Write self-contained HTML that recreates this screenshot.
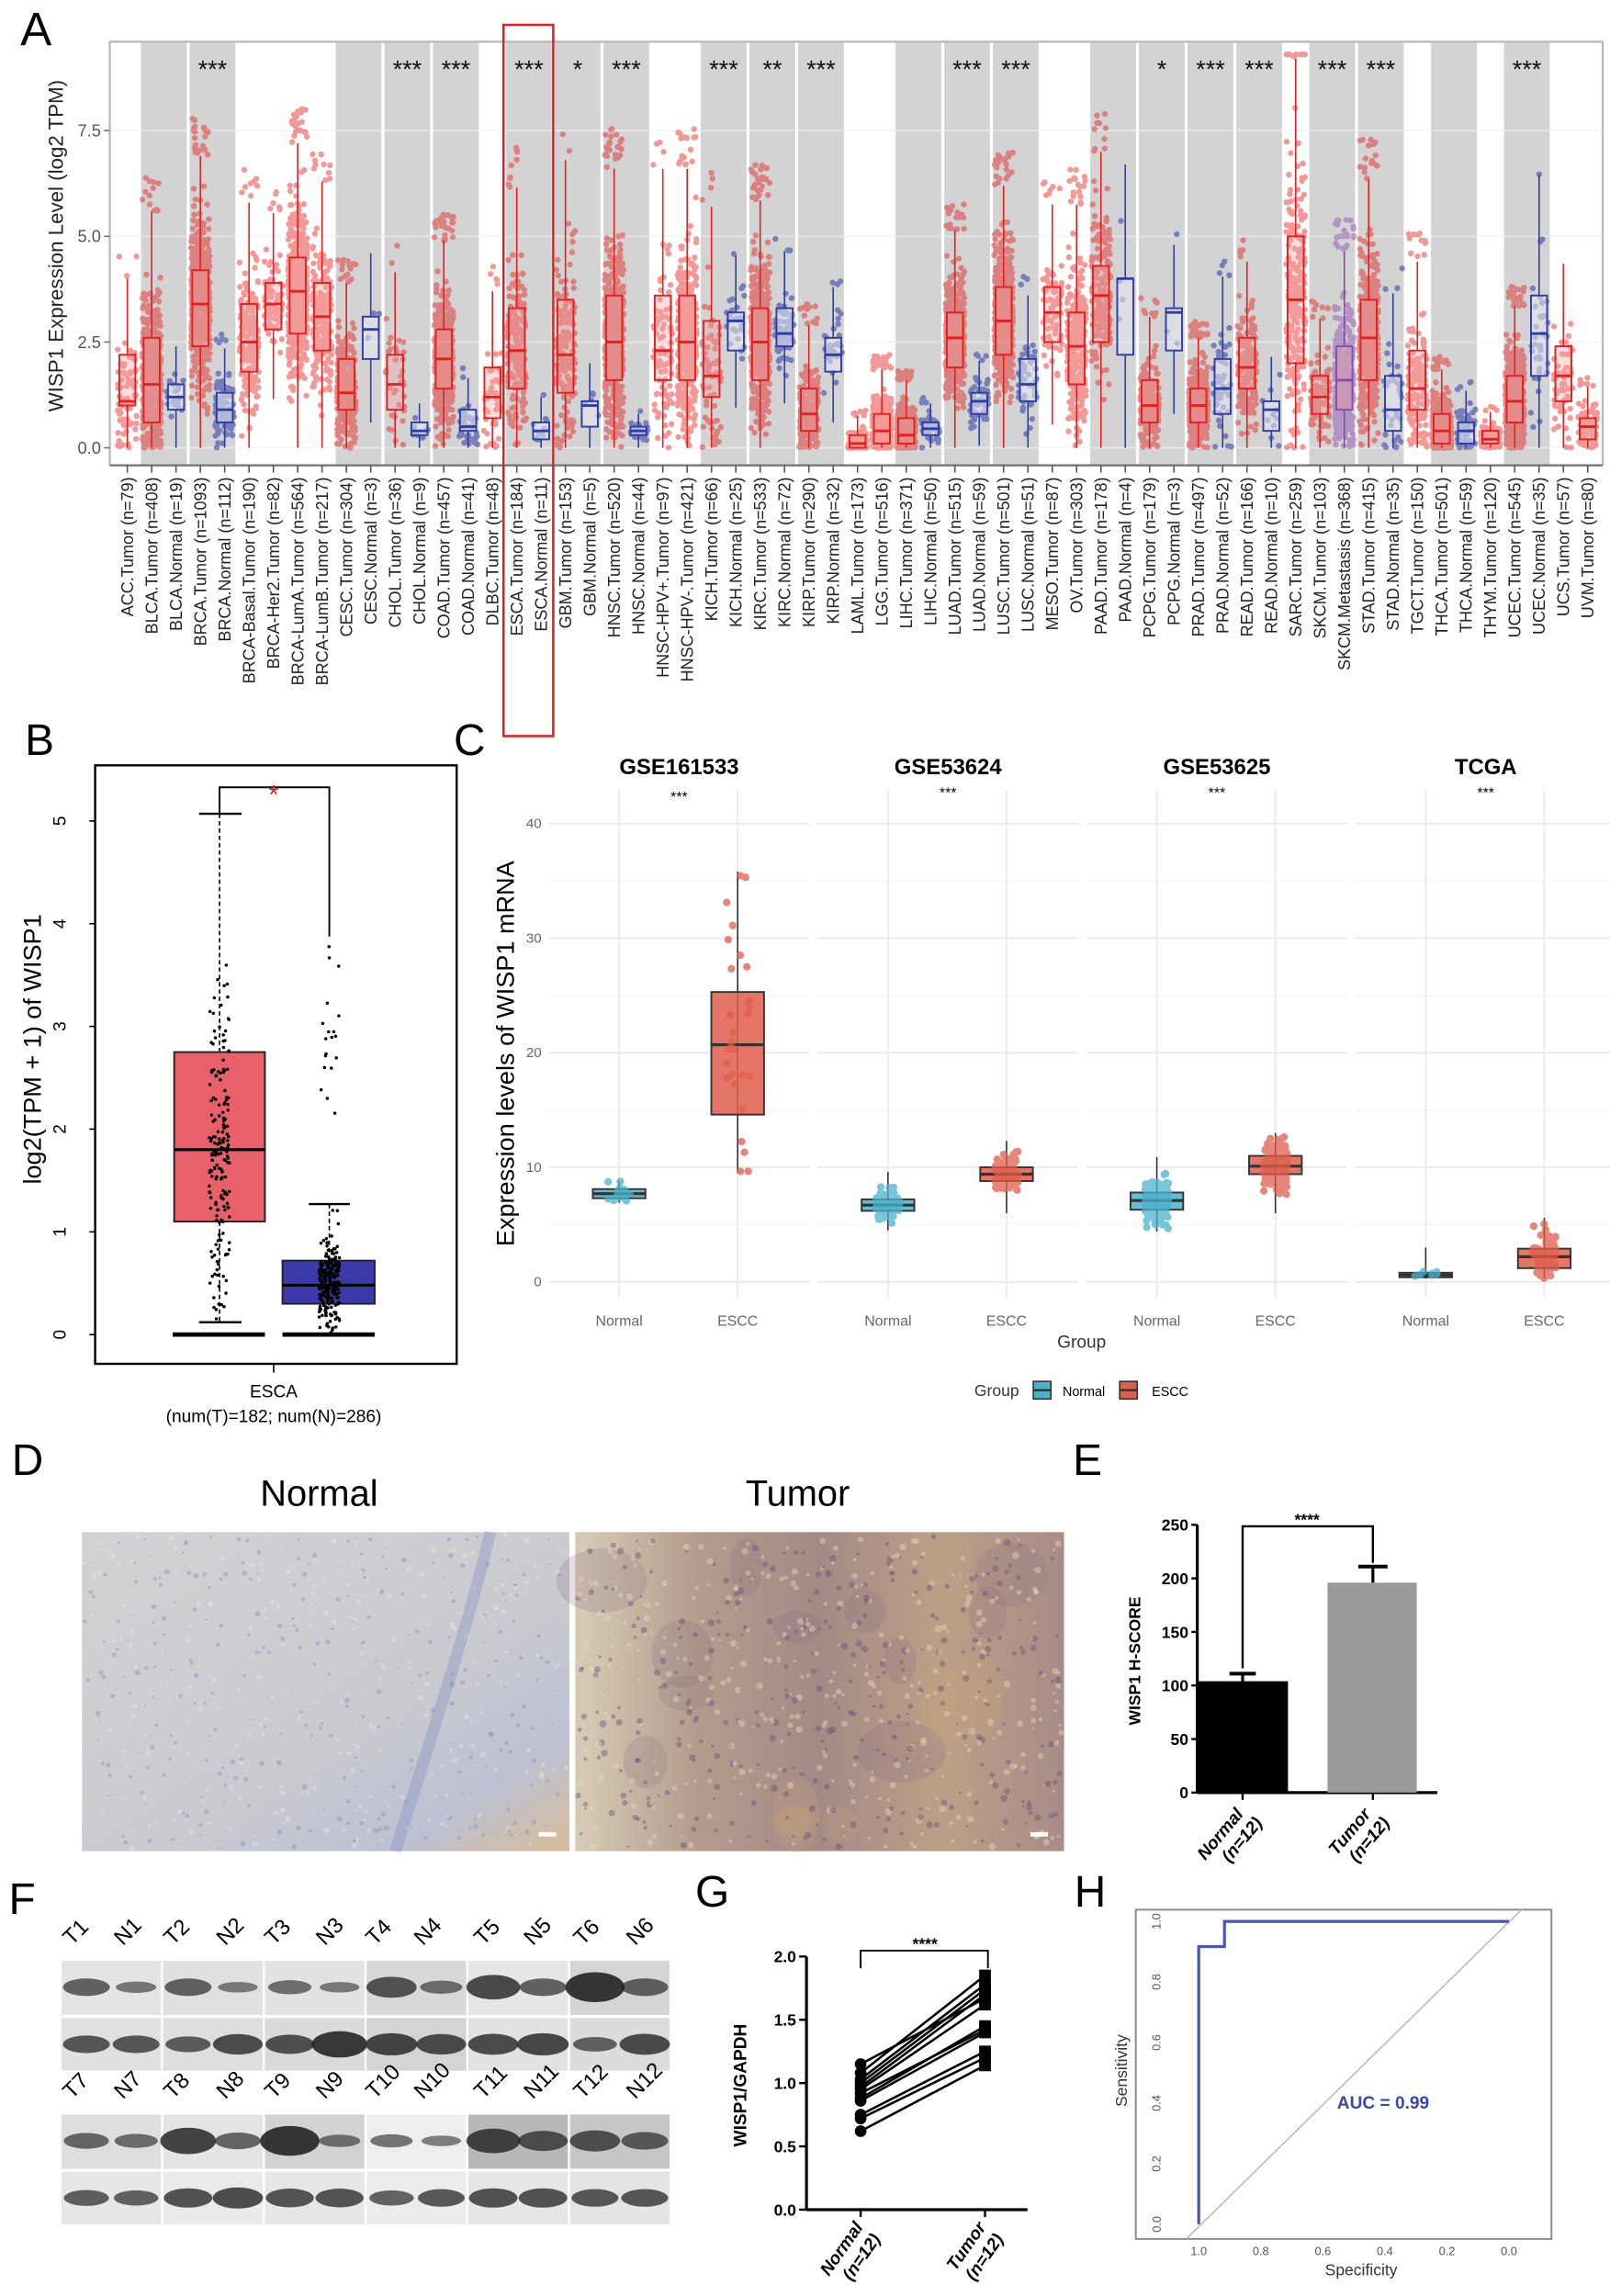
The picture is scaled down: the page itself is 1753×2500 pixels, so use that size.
<!DOCTYPE html>
<html><head><meta charset="utf-8">
<style>
html,body{margin:0;padding:0;background:#fff;}
svg{display:block;}
text{font-family:"Liberation Sans",sans-serif;}
</style></head>
<body>
<svg id="s" width="1753" height="2500" viewBox="0 0 1100 1569" preserveAspectRatio="none" xmlns="http://www.w3.org/2000/svg">
<defs>
<linearGradient id="gn" x1="0" y1="0" x2="1" y2="1">
<stop offset="0" stop-color="#d2d2d4"/><stop offset="0.6" stop-color="#c9cad0"/><stop offset="0.82" stop-color="#bcc0d2"/><stop offset="1" stop-color="#d8bc98"/>
</linearGradient>
<linearGradient id="gt" x1="0" y1="0" x2="1" y2="0">
<stop offset="0" stop-color="#d8ccb6"/><stop offset="0.25" stop-color="#b49c8c"/><stop offset="0.5" stop-color="#a48a86"/><stop offset="0.75" stop-color="#bca086"/><stop offset="1" stop-color="#a88c88"/>
</linearGradient>
</defs>
<g id="root"></g>
</svg>
<script>
(function(){
var out=[];
function P(s){out.push(s);}
var seed=12345;
function rnd(){seed|=0;seed=seed+0x6D2B79F5|0;var t=Math.imul(seed^seed>>>15,1|seed);t=t+Math.imul(t^t>>>7,61|t)^t;return((t^t>>>14)>>>0)/4294967296;}
function gau(){return (rnd()+rnd()+rnd()+rnd()-2)*1.22;}
function T(x,y,s,opt){opt=opt||{};P('<text x="'+x+'" y="'+y+'" font-size="'+(opt.fs||12)+'"'+(opt.a?' text-anchor="'+opt.a+'"':'')+(opt.w?' font-weight="'+opt.w+'"':'')+(opt.c?' fill="'+opt.c+'"':'')+(opt.r!=null?' transform="rotate('+opt.r+' '+x+' '+y+')"':'')+(opt.st?' font-style="italic"':'')+'>'+s+'</text>');}
function L(x1,y1,x2,y2,c,w,ex){P('<line x1="'+x1+'" y1="'+y1+'" x2="'+x2+'" y2="'+y2+'" stroke="'+(c||'#000')+'" stroke-width="'+(w||1)+'"'+(ex||'')+'/>');}
function R(x,y,w,h,f,ex){P('<rect x="'+x+'" y="'+y+'" width="'+w+'" height="'+h+'" fill="'+f+'"'+(ex||'')+'/>');}

/* ===== Panel A ===== */
T(14,31,'A',{fs:32});
var cats=[["ACC.Tumor",79,1.0,1.1,2.2,'t'],["BLCA.Tumor",408,0.6,1.5,2.6,'t'],["BLCA.Normal",19,0.9,1.2,1.5,'n'],["BRCA.Tumor",1093,2.4,3.4,4.2,'t'],["BRCA.Normal",112,0.6,0.9,1.3,'n'],["BRCA-Basal.Tumor",190,1.8,2.5,3.4,'t'],["BRCA-Her2.Tumor",82,2.8,3.4,3.9,'t'],["BRCA-LumA.Tumor",564,2.7,3.7,4.5,'t'],["BRCA-LumB.Tumor",217,2.3,3.1,3.9,'t'],["CESC.Tumor",304,0.9,1.3,2.1,'t'],["CESC.Normal",3,2.1,2.8,3.1,'n'],["CHOL.Tumor",36,0.9,1.5,2.2,'t'],["CHOL.Normal",9,0.3,0.4,0.6,'n'],["COAD.Tumor",457,1.4,2.1,2.8,'t'],["COAD.Normal",41,0.4,0.5,0.9,'n'],["DLBC.Tumor",48,0.7,1.2,1.9,'t'],["ESCA.Tumor",184,1.4,2.3,3.3,'t'],["ESCA.Normal",11,0.2,0.4,0.6,'n'],["GBM.Tumor",153,1.3,2.2,3.5,'t'],["GBM.Normal",5,0.5,1.0,1.1,'n'],["HNSC.Tumor",520,1.6,2.5,3.6,'t'],["HNSC.Normal",44,0.3,0.4,0.5,'n'],["HNSC-HPV+.Tumor",97,1.6,2.3,3.6,'t'],["HNSC-HPV-.Tumor",421,1.6,2.5,3.6,'t'],["KICH.Tumor",66,1.2,1.7,3.0,'t'],["KICH.Normal",25,2.3,3.0,3.2,'n'],["KIRC.Tumor",533,1.6,2.5,3.3,'t'],["KIRC.Normal",72,2.4,2.7,3.3,'n'],["KIRP.Tumor",290,0.4,0.8,1.4,'t'],["KIRP.Normal",32,1.8,2.2,2.6,'n'],["LAML.Tumor",173,0.0,0.1,0.3,'t'],["LGG.Tumor",516,0.1,0.4,0.8,'t'],["LIHC.Tumor",371,0.1,0.3,0.7,'t'],["LIHC.Normal",50,0.3,0.45,0.6,'n'],["LUAD.Tumor",515,1.9,2.6,3.2,'t'],["LUAD.Normal",59,0.8,1.1,1.3,'n'],["LUSC.Tumor",501,2.2,3.0,3.8,'t'],["LUSC.Normal",51,1.1,1.5,2.1,'n'],["MESO.Tumor",87,2.5,3.2,3.8,'t'],["OV.Tumor",303,1.5,2.4,3.2,'t'],["PAAD.Tumor",178,2.5,3.6,4.3,'t'],["PAAD.Normal",4,2.2,4.0,4.0,'n'],["PCPG.Tumor",179,0.6,1.0,1.6,'t'],["PCPG.Normal",3,2.3,3.2,3.3,'n'],["PRAD.Tumor",497,0.6,1.0,1.4,'t'],["PRAD.Normal",52,0.8,1.4,2.1,'n'],["READ.Tumor",166,1.4,1.9,2.6,'t'],["READ.Normal",10,0.4,0.9,1.1,'n'],["SARC.Tumor",259,2.0,3.5,5.0,'t'],["SKCM.Tumor",103,0.8,1.2,1.7,'t'],["SKCM.Metastasis",368,0.9,1.6,2.4,'m'],["STAD.Tumor",415,1.6,2.6,3.5,'t'],["STAD.Normal",35,0.4,0.9,1.7,'n'],["TGCT.Tumor",150,0.9,1.4,2.3,'t'],["THCA.Tumor",501,0.1,0.4,0.8,'t'],["THCA.Normal",59,0.1,0.4,0.6,'n'],["THYM.Tumor",120,0.1,0.2,0.4,'t'],["UCEC.Tumor",545,0.6,1.1,1.7,'t'],["UCEC.Normal",35,1.7,2.7,3.6,'n'],["UCS.Tumor",57,1.1,1.7,2.4,'t'],["UVM.Tumor",80,0.2,0.5,0.7,'t']];
var x0=87,dx=16.63,ay0=306,ayk=28.9;
function ax(i){return x0+i*dx;}function ay(v){return ay0-v*ayk;}
R(75,28,1020,290,'#fff');
var groups=[[0,0,0],[1,2,1],[3,4,1],[5,8,0],[9,10,1],[11,12,1],[13,14,1],[15,15,0],[16,17,1],[18,19,1],[20,21,1],[22,23,0],[24,25,1],[26,27,1],[28,29,1],[30,30,0],[31,31,0],[32,33,1],[34,35,1],[36,37,1],[38,38,0],[39,39,0],[40,41,1],[42,43,1],[44,45,1],[46,47,1],[48,48,0],[49,50,1],[51,52,1],[53,53,0],[54,55,1],[56,56,0],[57,58,1],[59,59,0],[60,60,0]];
groups.forEach(function(g){if(g[2]){var a=ax(g[0]-0.5)+1,b=ax(g[1]+0.5)-1;if(g[0]==0)a=76;if(g[1]==60)b=1094;R(a,29,b-a,289,'#d3d3d3');}});
[0,2.5,5,7.5].forEach(function(v){L(75,ay(v),1095,ay(v),'#f0f0f0',1.2,' opacity="0.6"');});
L(75,28.5,1095,28.5,'#bbb',1.5);L(75,28,75,318,'#bbb',1.5);L(1095,28,1095,318,'#bbb',1.5);L(75,318,1095,318,'#777',1.5);
[0,2.5,5,7.5].forEach(function(v){L(71,ay(v),75,ay(v),'#777',1);T(69,ay(v)+4,v.toFixed(1),{fs:11.5,a:'end',c:'#555'});});
T(43,168,'WISP1 Expression Level (log2 TPM)',{fs:14,a:'middle',r:-90,c:'#222'});
var col={t:'#e41f1c',n:'#2d3ca6',m:'#8a4ab0'};
cats.forEach(function(c,i){var x=ax(i),q1=c[2],md=c[3],q3=c[4],iq=Math.max(q3-q1,0.2),cl=col[c[5]];
 var lo=Math.max(0,q1-1.5*iq),hi=Math.min(9.2,q3+1.5*iq);
 var n=Math.min(c[1],600);var pts='';
 for(var k=0;k<n;k++){var v=md+gau()*iq/1.3;if(rnd()<0.05)v=hi+rnd()*iq*0.5;if(v<0)v=Math.abs(v)*0.3;if(v>9.3)v=9.3;var px=x+(rnd()-0.5)*13;pts+='<circle cx="'+px.toFixed(1)+'" cy="'+ay(v).toFixed(1)+'" r="2"/>';}
 P('<g fill="'+cl+'" opacity="'+(c[5]=='n'?0.55:0.45)+'">'+pts+'</g>');
 var bw=11;
 L(x,ay(hi),x,ay(q3),cl,1);L(x,ay(q1),x,ay(lo),cl,1);
 P('<rect x="'+(x-bw/2)+'" y="'+ay(q3)+'" width="'+bw+'" height="'+(ay(q1)-ay(q3))+'" fill="'+(c[5]=='n'?'#e8e8ee':'#f3a0a0')+'" fill-opacity="'+(c[5]=='n'?0.55:0.35)+'" stroke="'+cl+'" stroke-width="1.2"/>');
 L(x-bw/2,ay(md),x+bw/2,ay(md),cl,1.8);
 L(x,318,x,323,'#555',1);
 T(x+4,326,c[0]+' (n='+c[1]+')',{fs:11.3,a:'end',r:-90,c:'#222'});
});
var stars=[[3.5,'***'],[11.5,'***'],[13.5,'***'],[16.5,'***'],[18.5,'*'],[20.5,'***'],[24.5,'***'],[26.5,'**'],[28.5,'***'],[34.5,'***'],[36.5,'***'],[42.5,'*'],[44.5,'***'],[46.5,'***'],[49.5,'***'],[51.5,'***'],[57.5,'***']];
stars.forEach(function(s){T(ax(s[0]),53,s[1],{fs:17,a:'middle',c:'#111'});});
R(344,17,34,486,'none',' stroke="#e02020" stroke-width="1.6"');

/* ===== Panel B ===== */
T(17,516,'B',{fs:30});
R(65,523,247,409,'none',' stroke="#000" stroke-width="1.5"');
function by(v){return 912-v*70.2;}
[0,1,2,3,4,5].forEach(function(v){L(61,by(v),65,by(v),'#000',1);T(45,by(v),String(v),{fs:12,a:'middle',r:-90});});
T(28,717,'log2(TPM + 1) of WISP1',{fs:17,a:'middle',r:-90});
L(187,932,187,938,'#000',1);
T(187,955,'ESCA',{fs:12,a:'middle'});T(187,972,'(num(T)=182; num(N)=286)',{fs:12,a:'middle'});
L(150,by(5.07),150,by(2.75),'#000',1,' stroke-dasharray="3,2"');L(150,by(1.1),150,by(0.12),'#000',1,' stroke-dasharray="3,2"');
L(136,by(5.07),165,by(5.07),'#000',1.5);L(136,by(0.12),165,by(0.12),'#000',1.5);
R(119,by(2.75),62,by(1.1)-by(2.75),'#e8606a',' stroke="#222" stroke-width="1.2"');L(119,by(1.8),181,by(1.8),'#000',2);
L(225,by(1.27),225,by(0.72),'#000',1,' stroke-dasharray="3,2"');L(211,by(1.27),239,by(1.27),'#000',1.5);
R(193,by(0.72),63,by(0.3)-by(0.72),'#3a3aa8',' stroke="#222" stroke-width="1.2"');L(193,by(0.48),256,by(0.48),'#000',2);
L(118,912,181,912,'#000',3);L(193,912,256,912,'#000',3);
var d='';for(var k=0;k<180;k++){var v=1.8+gau()*1.1;if(v<0.1)v=0.1+rnd()*0.5;if(v>5)v=4.5;d+='<circle cx="'+(150+(rnd()-0.5)*14).toFixed(1)+'" cy="'+by(v).toFixed(1)+'" r="1.1"/>';}
for(var k=0;k<260;k++){var v=0.48+gau()*0.3;if(rnd()<0.08)v=1+rnd()*2.8;if(v<0)v=rnd()*0.2;d+='<circle cx="'+(225+(rnd()-0.5)*14).toFixed(1)+'" cy="'+by(v).toFixed(1)+'" r="1.1"/>';}
P('<g fill="#000">'+d+'</g>');
P('<polyline points="150,556 150,538 225,538 225,640" fill="none" stroke="#000" stroke-width="1.2"/>');
T(187,549,'*',{fs:18,a:'middle',c:'#e02020'});

/* ===== Panel C ===== */
T(310,516,'C',{fs:30});
function cy(v){return 876-v*7.83;}
var fac=[['GSE161533',[7.3,7.7,8.1,6.9,8.8,22],[14.6,20.7,25.3,9.5,35.8,28]],['GSE53624',[6.2,6.7,7.2,4.5,9.6,119],[8.8,9.4,10.0,6.0,12.3,119]],['GSE53625',[6.3,7.1,7.8,4.4,10.9,179],[9.4,10.1,11.0,6.0,13.0,179]],['TCGA',[0.4,0.6,0.8,0.3,3.0,8],[1.2,2.2,2.9,0.3,5.6,81]]];
for(var f=0;f<4;f++){var fx=375+f*183.7,nx=423+f*183.7,ex=504+f*183.7;
 [0,10,20,30,40].forEach(function(v){L(fx,cy(v),fx+178,cy(v),'#ebebeb',1.3);});
 [5,15,25,35].forEach(function(v){L(fx,cy(v),fx+178,cy(v),'#f5f5f5',0.8);});
 L(nx,540,nx,887,'#ebebeb',1.2);L(ex,540,ex,887,'#ebebeb',1.2);
 T(fx+89,529,fac[f][0],{fs:15,a:'middle',w:'bold'});
 T(fx+89,f==0?548:545,'***',{fs:10,a:'middle'});
 T(nx,906,'Normal',{fs:10,a:'middle',c:'#666'});T(ex,906,'ESCC',{fs:10,a:'middle',c:'#666'});
 [[nx,fac[f][1],'#49b3cc'],[ex,fac[f][2],'#e05e4c']].forEach(function(b){var x=b[0],q=b[1],cl=b[2];
  L(x,cy(q[4]),x,cy(q[3]),'#333',1);
  R(x-18,cy(q[2]),36,cy(q[0])-cy(q[2]),cl,' stroke="#333" stroke-width="1.2" fill-opacity="0.85"');
  L(x-18,cy(q[1]),x+18,cy(q[1]),'#333',2);
  var s='';var iq=q[2]-q[0];for(var k=0;k<q[5];k++){var v=q[1]+gau()*iq/1.1;if(v<q[3])v=q[3]+rnd()*0.5;if(v>q[4])v=q[4]-rnd()*0.5;s+='<circle cx="'+(x+(rnd()-0.5)*16).toFixed(1)+'" cy="'+cy(v).toFixed(1)+'" r="2.6"/>';}
  P('<g fill="'+cl+'" opacity="0.75">'+s+'</g>');
 });
}
[0,10,20,30,40].forEach(function(v){T(370,cy(v)+3,String(v),{fs:9.5,a:'end',c:'#666'});});
T(351,720,'Expression levels of WISP1 mRNA',{fs:17,a:'middle',r:-90});
T(739,921,'Group',{fs:12,a:'middle',c:'#333'});
T(681,954,'Group',{fs:11,a:'middle',c:'#333'});
R(706,944,12,12,'#49b3cc',' stroke="#333"');L(706,950,718,950,'#333',1.5);T(726,954,'Normal',{fs:9});
R(765,944,12,12,'#e05e4c',' stroke="#333"');L(765,950,777,950,'#333',1.5);T(787,954,'ESCC',{fs:9});

/* ===== Panel D ===== */
T(8,1008,'D',{fs:30});
T(218,1029,'Normal',{fs:25,a:'middle'});T(545,1029,'Tumor',{fs:25,a:'middle'});
R(56,1047,333,218,'url(#gn)');
R(393,1047,334,218,'url(#gt)');
var bl='';
for(var k=0;k<18;k++){bl+='<ellipse cx="'+(410+rnd()*300).toFixed(0)+'" cy="'+(1060+rnd()*190).toFixed(0)+'" rx="'+(10+rnd()*22).toFixed(0)+'" ry="'+(8+rnd()*18).toFixed(0)+'" fill="'+(rnd()<0.6?'#8a6e86':'#c9a47c')+'" opacity="0.22"/>';}
for(var k=0;k<700;k++){bl+='<circle cx="'+(395+rnd()*330).toFixed(0)+'" cy="'+(1049+rnd()*214).toFixed(0)+'" r="'+(0.8+rnd()*1.6).toFixed(1)+'" fill="'+(rnd()<0.5?'#6e5278':'#e6d6bc')+'" opacity="0.45"/>';}
for(var k=0;k<600;k++){bl+='<circle cx="'+(58+rnd()*329).toFixed(0)+'" cy="'+(1049+rnd()*214).toFixed(0)+'" r="'+(0.6+rnd()*1.2).toFixed(1)+'" fill="'+(rnd()<0.5?'#8a90b0':'#e6e6e6')+'" opacity="0.45"/>';}
P(bl);
P('<path d="M335,1047 C320,1110 300,1170 270,1265" stroke="#7f8ac0" stroke-width="8" fill="none" opacity="0.35"/>');
R(368,1252,12,3,'#fff');R(704,1252,12,3,'#fff');

/* ===== Panel E ===== */
T(733,1008,'E',{fs:30});
function ey(v){return 1225-v*0.732;}
L(818,1042,818,1225,'#000',2);L(818,1225,982,1225,'#000',2);
[0,50,100,150,200,250].forEach(function(v){L(814,ey(v),818,ey(v),'#000',1.5);T(812,ey(v)+4,String(v),{fs:11,a:'end',w:'bold'});});
R(818,ey(104),62,ey(0)-ey(104),'#000');R(907,ey(196),61,ey(0)-ey(196),'#9a9a9a');
L(849,ey(104),849,ey(111),'#000',2);L(840,ey(111),858,ey(111),'#000',2.5);
L(938,ey(196),938,ey(211),'#000',2);L(928,ey(211),948,ey(211),'#000',2.5);
P('<polyline points="849,1140 849,1043 938,1043 938,1068" fill="none" stroke="#000" stroke-width="1.5"/>');
T(893,1042,'****',{fs:11,a:'middle',w:'bold'});
T(779,1135,'WISP1 H-SCORE',{fs:11,a:'middle',w:'bold',r:-90});
L(849,1225,849,1230,'#000',1.5);L(938,1225,938,1230,'#000',1.5);
T(850,1240,'Normal',{fs:12,a:'end',r:-50,w:'bold',st:1});T(863,1246,'(n=12)',{fs:12,a:'end',r:-50,w:'bold',st:1});
T(937,1240,'Tumor',{fs:12,a:'end',r:-50,w:'bold',st:1});T(950,1246,'(n=12)',{fs:12,a:'end',r:-50,w:'bold',st:1});

/* ===== Panel F ===== */
T(6,1308,'F',{fs:30});
var lxs=[55,90,124,160,193,228,262,295,336,370,404,440];
var lab1=['T1','N1','T2','N2','T3','N3','T4','N4','T5','N5','T6','N6'],lab2=['T7','N7','T8','N8','T9','N9','T10','N10','T11','N11','T12','N12'];
function blot(rowY,labs,bandsTop,bandsBot,bgs){
 for(var p=0;p<6;p++){var px=42+p*69.5;
  R(px,rowY,68,37,bgs[p][0]);R(px,rowY+39,68,36,bgs[p][1]);
  for(var j=0;j<2;j++){var bx=px+17+j*34;var s1=bandsTop[p*2+j],s2=bandsBot[p*2+j];
   P('<ellipse cx="'+bx+'" cy="'+(rowY+18)+'" rx="'+(13+s1*3)+'" ry="'+(3+s1*3)+'" fill="#1a1a1a" opacity="'+(0.5+s1*0.15)+'"/>');
   P('<ellipse cx="'+bx+'" cy="'+(rowY+57)+'" rx="'+(14+s2*2)+'" ry="'+(4+s2*2)+'" fill="#1a1a1a" opacity="'+(0.6+s2*0.1)+'"/>');
  }}
 labs.forEach(function(t,i){T(lxs[i]-6,rowY-10,t,{fs:15,r:-45});});
}
blot(1340,lab1,[1,0.3,1,0.2,0.6,0.2,1.4,0.5,1.8,1,2.4,1],[1,1,0.7,1.5,1.3,2.5,1.8,1.5,1.6,1.8,0.5,1.6],[['#e4e4e4','#e0e0e0'],['#e0e0e0','#dedede'],['#e2e2e2','#dadada'],['#d8d8d8','#d4d4d4'],['#e6e6e6','#e2e2e2'],['#d4d4d4','#dcdcdc']]);
blot(1445,lab2,[0.8,0.6,2,0.9,2.4,0.4,0.5,0.2,1.8,1.3,1.4,1],[0.7,0.6,1.3,1.6,1.2,1.2,0.6,1,1.3,1.3,1,1],[['#dedede','#e6e6e6'],['#e4e4e4','#eaeaea'],['#d2d2d2','#e6e6e6'],['#eeeeee','#ececec'],['#b8b8b8','#e6e6e6'],['#c6c6c6','#e4e4e4']]);

/* ===== Panel G ===== */
T(475,1303,'G',{fs:30});
function gy(v){return 1510-v*86.5;}
L(551,1337,551,1510,'#000',2);L(551,1510,702,1510,'#000',2);
[0,0.5,1,1.5,2].forEach(function(v){L(546,gy(v),551,gy(v),'#000',1.5);T(544,gy(v)+4,v.toFixed(1),{fs:11,a:'end',w:'bold'});});
var nv=[0.62,0.72,0.75,0.86,0.88,0.92,0.95,0.97,1.0,1.03,1.08,1.15],tv=[1.14,1.2,1.25,1.4,1.45,1.42,1.62,1.7,1.74,1.78,1.85,1.67];
var gl='';for(var k=0;k<12;k++){gl+='<line x1="588" y1="'+gy(nv[k])+'" x2="673" y2="'+gy(tv[k])+'" stroke="#000" stroke-width="1.6"/><circle cx="588" cy="'+gy(nv[k])+'" r="4"/><rect x="669" y="'+(gy(tv[k])-4)+'" width="8" height="8"/>';}
P('<g fill="#000">'+gl+'</g>');
P('<polyline points="588,1345 588,1333 675,1333 675,1345" fill="none" stroke="#000" stroke-width="1.2"/>');
T(632,1332,'****',{fs:11,a:'middle',w:'bold'});
T(510,1425,'WISP1/GAPDH',{fs:12,a:'middle',w:'bold',r:-90});
L(588,1510,588,1515,'#000',1.5);L(673,1510,673,1515,'#000',1.5);
T(590,1522,'Normal',{fs:12,a:'end',r:-55,w:'bold',st:1});T(602,1530,'(n=12)',{fs:12,a:'end',r:-55,w:'bold',st:1});
T(674,1522,'Tumor',{fs:12,a:'end',r:-55,w:'bold',st:1});T(686,1530,'(n=12)',{fs:12,a:'end',r:-55,w:'bold',st:1});

/* ===== Panel H ===== */
T(734,1303,'H',{fs:30});
R(776,1305,284,225,'none',' stroke="#888" stroke-width="1.2"');
function hx(v){return 1031-v*212;}function hy(v){return 1520-v*207;}
L(hx(1.04),1530,hx(-0.04),1305,'#bbb',1);
P('<polyline points="'+hx(1)+','+hy(0)+' '+hx(1)+','+hy(0.917)+' '+hx(0.917)+','+hy(0.917)+' '+hx(0.917)+','+hy(1)+' '+hx(0)+','+hy(1)+'" fill="none" stroke="#4a55b8" stroke-width="2"/>');
[0,0.2,0.4,0.6,0.8,1].forEach(function(v){T(793,hy(v),v.toFixed(1),{fs:8,a:'middle',r:-90,c:'#555'});T(hx(v),1541,v.toFixed(1),{fs:8,a:'middle',c:'#555'});});
T(770,1415,'Sensitivity',{fs:11,a:'middle',r:-90,c:'#333'});
T(930,1555,'Specificity',{fs:11,a:'middle',c:'#333'});
T(945,1441,'AUC = 0.99',{fs:12,a:'middle',w:'bold',c:'#3a46b0'});

document.getElementById('root').innerHTML=out.join('');
})();
</script>
</body></html>
